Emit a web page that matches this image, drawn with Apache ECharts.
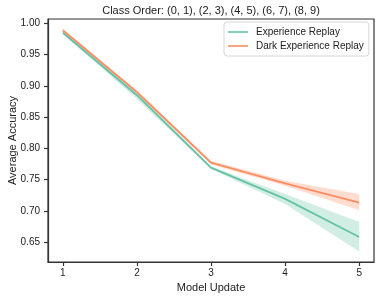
<!DOCTYPE html>
<html><head><meta charset="utf-8">
<script src="https://cdn.jsdelivr.net/npm/echarts@6/dist/echarts.min.js"></script>
<style>html,body{margin:0;padding:0;background:#fff}#c{width:380px;height:300px}</style>
</head><body><div id="c"></div>
<script>
const updates = [1, 2, 3, 4, 5];
const erMean  = [0.985, 0.885, 0.769, 0.719, 0.658];
const erLow   = [0.983, 0.879, 0.767, 0.711, 0.635];
const erHigh  = [0.987, 0.889, 0.771, 0.727, 0.682];
const derMean = [0.989, 0.890, 0.777, 0.744, 0.713];
const derLow  = [0.987, 0.887, 0.774, 0.740, 0.701];
const derHigh = [0.991, 0.893, 0.780, 0.748, 0.727];
const yTicks = [0.65, 0.70, 0.75, 0.80, 0.85, 0.90, 0.95, 1.00];
const xTicks = [1, 2, 3, 4, 5];

const green = '#66c2a5', orange = '#fc8d62';
const font = 'Liberation Sans';
const pts = (arr) => updates.map((x, i) => [x, arr[i]]);

// one data item per segment: [x0, lo0, hi0, x1, lo1, hi1]
const segs = (lo, hi) => updates.slice(0, -1).map((x, i) =>
  [x, lo[i], hi[i], updates[i + 1], lo[i + 1], hi[i + 1]]);

function band(lo, hi, color) {
  return {
    type: 'custom', silent: true, z: 1,
    data: segs(lo, hi),
    encode: { x: [0, 3], y: [1, 2, 4, 5] },
    renderItem: function (params, api) {
      const a = api.coord([api.value(0), api.value(1)]);
      const b = api.coord([api.value(0), api.value(2)]);
      const c = api.coord([api.value(3), api.value(5)]);
      const d = api.coord([api.value(3), api.value(4)]);
      return {
        type: 'polygon',
        shape: { points: [a, b, c, d] },
        style: { fill: color, opacity: 0.3, stroke: color, lineWidth: 0.01 }
      };
    }
  };
}

const chart = echarts.init(document.getElementById('c'), null, { renderer: 'canvas' });
chart.setOption({
  animation: false,
  backgroundColor: '#fff',
  title: {
    text: 'Class Order: (0, 1), (2, 3), (4, 5), (6, 7), (8, 9)',
    left: 211, top: 5, textAlign: 'center', padding: 0,
    textStyle: { fontFamily: font, fontSize: 11, fontWeight: 'normal', color: '#222' }
  },
  legend: {
    left: 224, top: 22,
    orient: 'vertical',
    data: ['Experience Replay', 'Dark Experience Replay'],
    icon: 'rect', itemWidth: 20, itemHeight: 1.6, itemGap: 4,
    padding: [5, 5, 5, 4],
    borderColor: '#d6d6d6', borderWidth: 1, borderRadius: 3,
    backgroundColor: 'rgba(255,255,255,0.8)',
    textStyle: { fontFamily: font, fontSize: 10, color: '#222', padding: [0, 0, 0, 3] }
  },
  grid: { left: 48, right: 6, top: 19, bottom: 38, containLabel: false, outerBoundsMode: 'none',
    show: true, borderColor: '#333', borderWidth: 1.2 },
  xAxis: {
    type: 'value', min: 0.8, max: 5.2,
    name: 'Model Update', nameLocation: 'middle', nameGap: 20, nameMoveOverlap: false,
    nameTextStyle: { fontFamily: font, fontSize: 11, color: '#222' },
    axisLine: { show: true, lineStyle: { color: '#333', width: 1.2 } },
    axisTick: { show: true, inside: false, length: 4, lineStyle: { color: '#333', width: 1.2 }, customValues: xTicks },
    axisLabel: { fontFamily: font, fontSize: 10, color: '#222', margin: 6, customValues: xTicks, formatter: (v) => String(v) },
    splitLine: { show: false }
  },
  yAxis: {
    type: 'value', min: 0.618, max: 1.007,
    name: 'Average Accuracy', nameLocation: 'middle', nameGap: 30, nameMoveOverlap: false,
    nameTextStyle: { fontFamily: font, fontSize: 11, color: '#222' },
    axisLine: { show: true, lineStyle: { color: '#333', width: 1.2 } },
    axisTick: { show: true, inside: false, length: 4, lineStyle: { color: '#333', width: 1.2 }, customValues: yTicks },
    axisLabel: { fontFamily: font, fontSize: 10, color: '#222', margin: 8, customValues: yTicks, formatter: (v) => v.toFixed(2) },
    splitLine: { show: false }
  },
  series: [
    band(erLow, erHigh, green),
    band(derLow, derHigh, orange),
    { name: 'Experience Replay', type: 'line', data: pts(erMean), symbol: 'none',
      lineStyle: { color: green, width: 1.8 }, itemStyle: { color: green }, z: 3 },
    { name: 'Dark Experience Replay', type: 'line', data: pts(derMean), symbol: 'none',
      lineStyle: { color: orange, width: 1.8 }, itemStyle: { color: orange }, z: 3 }
  ]
});
</script></body></html>
